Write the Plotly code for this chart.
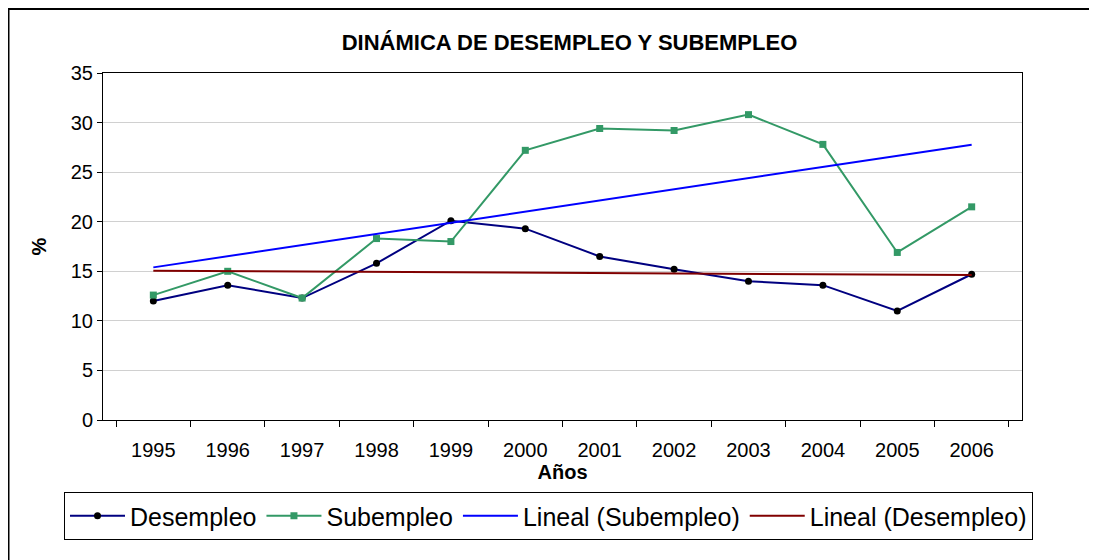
import numpy as np
import plotly.graph_objects as go

years = ["1995", "1996", "1997", "1998", "1999", "2000", "2001", "2002", "2003", "2004", "2005", "2006"]
desempleo = [12.0, 13.6, 12.3, 15.8, 20.1, 19.3, 16.5, 15.2, 14.0, 13.6, 11.0, 14.7]
subempleo = [12.6, 15.0, 12.3, 18.3, 18.0, 27.2, 29.4, 29.2, 30.8, 27.8, 16.9, 21.5]

idx = np.arange(len(years))
ps = np.polyfit(idx, subempleo, 1)
pd_ = np.polyfit(idx, desempleo, 1)
trend_sub = np.polyval(ps, idx)
trend_des = np.polyval(pd_, idx)

FONT = "Liberation Sans, Arial, sans-serif"

fig = go.Figure()
fig.add_trace(go.Scatter(x=years, y=desempleo, name="Desempleo", mode="lines+markers",
                         line=dict(color="#000080", width=2),
                         marker=dict(symbol="circle", size=7, color="#000000")))
fig.add_trace(go.Scatter(x=years, y=subempleo, name="Subempleo", mode="lines+markers",
                         line=dict(color="#339966", width=2),
                         marker=dict(symbol="square", size=7, color="#339966")))
fig.add_trace(go.Scatter(x=years, y=trend_sub, name="Lineal (Subempleo)", mode="lines",
                         line=dict(color="#0000FF", width=2)))
fig.add_trace(go.Scatter(x=years, y=trend_des, name="Lineal (Desempleo)", mode="lines",
                         line=dict(color="#800000", width=2)))

# page body margin offset (screen px)
OFF = 8
W, H = 1097, 560
# plot area in screen pixels
SX0, SX1, SY0, SY1 = 103, 1022, 73, 420
L = SX0 - OFF
T = SY0 - OFF
R = W - (SX1 - OFF)
B = H - (SY1 - OFF)
pw, ph = W - L - R, H - T - B

def px_x(sx):
    return (sx - SX0) / pw

def px_y(sy):
    return (SY1 - sy) / ph

fig.add_shape(type="rect", xref="paper", yref="paper",
              x0=px_x(8.5), x1=px_x(1130),
              y0=px_y(590), y1=px_y(9),
              line=dict(color="black", width=2), layer="below")

fig.update_layout(
    width=W, height=H,
    margin=dict(l=L, r=R, t=T, b=B),
    paper_bgcolor="white", plot_bgcolor="white",
    font=dict(family=FONT, color="black", size=20),
    title=dict(text="<b>DINÁMICA DE DESEMPLEO Y SUBEMPLEO</b>", x=px_x(569.5), xref="paper",
               xanchor="center",
               y=1 - (42 - OFF) / H, yref="container", yanchor="middle",
               font=dict(size=22, family=FONT)),
    showlegend=True,
    legend=dict(orientation="h", x=px_x(64), xanchor="left", xref="paper",
                y=px_y(516), yanchor="middle", yref="paper",
                bordercolor="black", borderwidth=1, bgcolor="white",
                font=dict(size=25, family=FONT), itemwidth=55, tracegroupgap=0),
    xaxis=dict(type="category", tickson="boundaries", ticks="outside", ticklen=6,
               tickcolor="black", showline=True, linecolor="black", linewidth=1,
               mirror=True, showgrid=False, ticklabelstandoff=12,
               title=dict(text="<b>Años</b>", font=dict(size=20), standoff=4),
               tickfont=dict(size=20)),
    yaxis=dict(range=[0, 35], dtick=5, ticks="outside", ticklen=5, tickcolor="black",
               showline=True, linecolor="black", linewidth=1, mirror=True,
               showgrid=True, gridcolor="#d0d0d0", gridwidth=1, zeroline=False,
               title=dict(text="<b>%</b>", font=dict(size=20), standoff=18),
               tickfont=dict(size=20)),
)

fig.write_html("out.html")
